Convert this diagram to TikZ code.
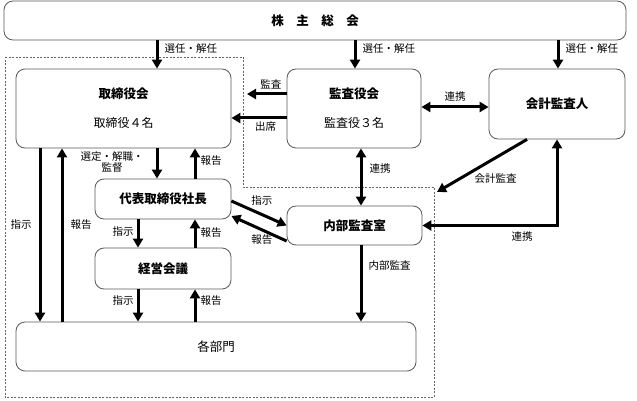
\documentclass[tikz,border=0pt]{standalone}
\usepackage{fontspec}
\setmainfont{Noto Sans CJK JP}
\usetikzlibrary{arrows.meta}

\begin{document}
\begin{tikzpicture}
[x=1pt,y=-1pt,
box/.style={draw=black!65,line width=.8pt,rounded corners=9pt,inner sep=0pt,align=center,font=\fontsize{12.5pt}{15pt}\selectfont\bfseries},
lbl/.style={font=\fontsize{10.5pt}{11.5pt}\selectfont,inner sep=1pt,align=center},
arr/.style={line width=3pt,-{Triangle[length=9pt,width=10pt]}},
darr/.style={line width=3pt,{Triangle[length=9pt,width=10pt]}-{Triangle[length=9pt,width=10pt]}}]
\useasboundingbox (0,0) rectangle (637,401);
% dashed frame
\draw[black!60,line width=.6pt,dash pattern=on 2pt off 1.5pt] (5,57) -- (243,57) -- (243,187) -- (434,187) -- (434,397) -- (5,397) -- cycle;
% boxes
\node[box,minimum width=622,minimum height=39] (kabu) at (315,20.5) {株\quad 主\quad 総\quad 会};
\node[box,minimum width=215,minimum height=79] (tori) at (123.5,108.5) {取締役会\\[14pt]\mdseries\fontsize{12pt}{15pt}\selectfont 取締役４名};
\node[box,minimum width=134,minimum height=79] (kansa) at (354,108.5) {監査役会\\[14pt]\mdseries\fontsize{12pt}{15pt}\selectfont 監査役３名};
\node[box,minimum width=136,minimum height=70] (kaikei) at (557,104) {会計監査人};
\node[box,minimum width=136,minimum height=40] (daihyo) at (163,199) {代表取締役社長};
\node[box,minimum width=136,minimum height=41] (keiei) at (163,268.5) {経営会議};
\node[box,minimum width=135,minimum height=39] (naibu) at (354.5,225.5) {内部監査室};
\node[box,minimum width=400,minimum height=49,font=\fontsize{12.5pt}{15pt}\selectfont] (kakubu) at (216,346.5) {各部門};
\coordinate (kansaTip) at (247,94);
\coordinate (frameTip) at (437,192);
% connectors
\draw[arr] (kabu.south -| 157,0) -- (tori.north -| 157,0) node[lbl,right,pos=.3,xshift=5pt] {選任・解任};
\draw[arr] (kabu.south -| 355,0) -- (kansa.north -| 355,0) node[lbl,right,pos=.3,xshift=5pt] {選任・解任};
\draw[arr] (kabu.south -| 558,0) -- (kaikei.north -| 558,0) node[lbl,right,pos=.3,xshift=5pt] {選任・解任};
\draw[arr] (kansa.west |- 0,94) -- (kansaTip) node[lbl,above,pos=.4,yshift=2pt] {監査};
\draw[arr] (kansa.west |- 0,118) -- (tori.east |- 0,118) node[lbl,below,pos=.38,yshift=-1pt] {出席};
\draw[darr] (kansa.east |- 0,107) -- (kaikei.west |- 0,107) node[lbl,above,midway,yshift=3pt] {連携};
\draw[arr] (tori.south -| 40,0) -- (kakubu.north -| 40,0) node[lbl,left,pos=.44,xshift=-6pt] {指示};
\draw[arr] (kakubu.north -| 62,0) -- (tori.south -| 62,0) node[lbl,right,pos=.56,xshift=6pt] {報告};
\draw[arr] (tori.south -| 157,0) -- (daihyo.north -| 157,0) node[lbl,left,pos=.45,xshift=-11pt] {選定・解職・\\監督};
\draw[arr] (daihyo.north -| 195,0) -- (tori.south -| 195,0) node[lbl,right,pos=.6,xshift=3pt] {報告};
\draw[arr] (daihyo.south -| 138,0) -- (keiei.north -| 138,0) node[lbl,left,pos=.42,xshift=-2pt] {指示};
\draw[arr] (keiei.north -| 195,0) -- (daihyo.south -| 195,0) node[lbl,right,pos=.55,xshift=3pt] {報告};
\draw[arr] (keiei.south -| 138,0) -- (kakubu.north -| 138,0) node[lbl,left,pos=.33,xshift=-2pt] {指示};
\draw[arr] (kakubu.north -| 195,0) -- (keiei.south -| 195,0) node[lbl,right,pos=.64,xshift=3pt] {報告};
\draw[arr] (daihyo.east |- 0,201) -- (naibu.west) node[lbl,pos=.55,yshift=14pt] {指示};
\draw[arr] (naibu.west |- 0,241) -- (daihyo.east |- 0,216) node[lbl,pos=.45,yshift=-10pt] {報告};
\draw[darr] (kansa.south -| 361,0) -- (naibu.north -| 361,0) node[lbl,right,pos=.36,xshift=6pt] {連携};
\draw[arr] (kaikei.south -| 527,0) -- (frameTip) node[lbl,pos=.35,yshift=-21pt] {会計監査};
\draw[darr] (naibu.east) -| (kaikei.south) node[lbl,below,pos=.37,yshift=-4pt] {連携};
\draw[arr] (naibu.south -| 361,0) -- (kakubu.north -| 361,0) node[lbl,right,pos=.27,xshift=5pt] {内部監査};
\end{tikzpicture}
\end{document}
